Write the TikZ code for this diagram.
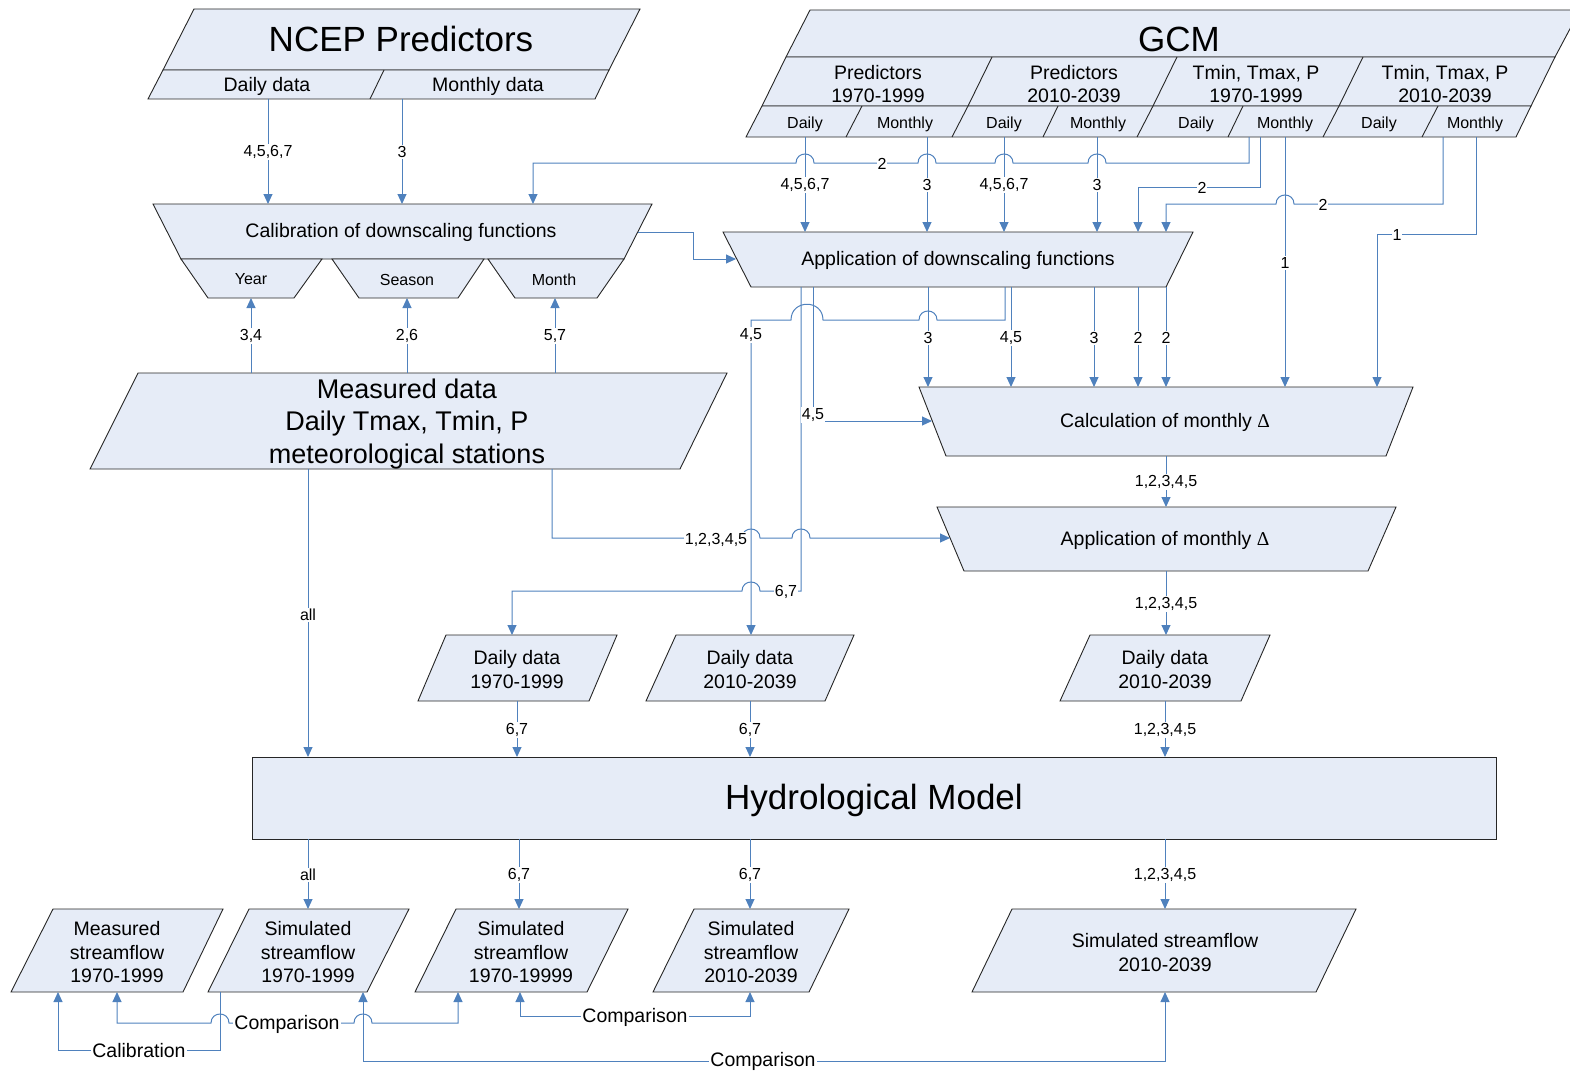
\documentclass[tikz,border=0pt]{standalone}
\usepackage{fontspec}
\setmainfont{Liberation Sans}
\newfontfamily\serifdelta{Liberation Serif}
\usetikzlibrary{arrows.meta}
\definecolor{linkblue}{RGB}{79,129,189}
\definecolor{shapefill}{RGB}{230,236,247}
\newcommand\fsTitle{\fontsize{35}{40}\selectfont}
\newcommand\fsMeas{\fontsize{27}{32.5}\selectfont}
\newcommand\fsMid{\fontsize{19.5}{23.5}\selectfont}
\newcommand\fsSmall{\fontsize{16}{19}\selectfont}
\tikzset{
 box/.style={draw=black!85,line width=0.9pt,fill=shapefill,line join=miter},
 div/.style={draw=black!85,line width=0.9pt},
 wire/.style={draw=linkblue,line width=1pt},
 conn/.style={wire,-{Triangle[length=10pt,width=9pt]}},
 dconn/.style={wire,{Triangle[length=10pt,width=9pt]}-{Triangle[length=10pt,width=9pt]}},
 lab/.style={fill=white,inner sep=1pt,font=\fsSmall,yshift=-1pt},
 blab/.style={fill=white,inner sep=1pt,font=\fsMid,yshift=-1pt},
 txt/.style={align=center,inner sep=0pt,font=\fsMid,yshift=-1.5pt},
 jl/.style 2 args={insert path={-- (#1+9,#2) .. controls (#1+9,#2-12) and (#1-9,#2-12) .. (#1-9,#2)}},
 jr/.style 2 args={insert path={-- (#1-9,#2) .. controls (#1-9,#2-12) and (#1+9,#2-12) .. (#1+9,#2)}},
 jlb/.style 2 args={insert path={-- (#1+16,#2) .. controls (#1+16,#2-21) and (#1-16,#2-21) .. (#1-16,#2)}},
}
\begin{document}
\begin{tikzpicture}[x=1pt,y=-1pt]
\useasboundingbox (0,0) rectangle (1570,1070);

% ---------- shapes ----------
% NCEP
\draw[box] (194,9) -- (640,9) -- (609,70) -- (163,70) -- cycle;
\draw[box] (163,70) -- (609,70) -- (595,99) -- (148,99) -- cycle;
\draw[div] (384,70) -- (370,99);
\node[txt,font=\fsTitle] (ncep) at (401,37) {NCEP Predictors};
\node[txt] (ncepD) at (267,85) {Daily data};
\node[txt] (ncepM) at (488,85) {Monthly data};

% GCM
\draw[box] (810,10) -- (1580,10) -- (1555,57) -- (786,57) -- cycle;
\draw[box] (786,57) -- (1555,57) -- (1531,106) -- (762,106) -- cycle;
\draw[box] (762,106) -- (1531,106) -- (1516,137) -- (746,137) -- cycle;
\draw[div] (992,57) -- (968,106);
\draw[div] (1177,57) -- (1153,106);
\draw[div] (1363,57) -- (1339,106);
\draw[div] (862,106) -- (846,137);
\draw[div] (968,106) -- (952,137);
\draw[div] (1058,106) -- (1043,137);
\draw[div] (1153,106) -- (1137,137);
\draw[div] (1243,106) -- (1228,137);
\draw[div] (1339,106) -- (1323,137);
\draw[div] (1438,106) -- (1422,137);
\node[txt,font=\fsTitle] (gcm) at (1179,37.5) {GCM};
\node[txt] (gp1) at (878,82.5) {Predictors\\1970-1999};
\node[txt] (gp2) at (1074,82.5) {Predictors\\2010-2039};
\node[txt] (gt1) at (1256,82.5) {Tmin, Tmax, P\\1970-1999};
\node[txt] (gt2) at (1445,82.5) {Tmin, Tmax, P\\2010-2039};
\node[txt,font=\fsSmall] (gp1d) at (805,123) {Daily};
\node[txt,font=\fsSmall] (gp1m) at (905,123) {Monthly};
\node[txt,font=\fsSmall] (gp2d) at (1004,123) {Daily};
\node[txt,font=\fsSmall] (gp2m) at (1098,123) {Monthly};
\node[txt,font=\fsSmall] (gt1d) at (1196,123) {Daily};
\node[txt,font=\fsSmall] (gt1m) at (1285,123) {Monthly};
\node[txt,font=\fsSmall] (gt2d) at (1379,123) {Daily};
\node[txt,font=\fsSmall] (gt2m) at (1475,123) {Monthly};

% Calibration
\draw[box] (153,204) -- (652,204) -- (624,259) -- (181,259) -- cycle;
\draw[box] (181,259) -- (322,259) -- (294,298) -- (208,298) -- cycle;
\draw[box] (332,259) -- (484,259) -- (458,298) -- (359,298) -- cycle;
\draw[box] (488,259) -- (624,259) -- (597,298) -- (515,298) -- cycle;
\node[txt] (cal) at (401,231) {Calibration of downscaling functions};
\node[txt,font=\fsSmall] (calY) at (251,278) {Year};
\node[txt,font=\fsSmall] (calS) at (407,278) {Season};
\node[txt,font=\fsSmall] (calM) at (554,278) {Month};

% Measured data
\draw[box] (138,373) -- (727,373) -- (680,469) -- (90,469) -- cycle;
\node[txt,font=\fsMeas] (meas) at (407,422.5) {Measured data\\Daily Tmax, Tmin, P\\meteorological stations};

% Application of downscaling functions
\draw[box] (723,232) -- (1193,232) -- (1166,287) -- (751,287) -- cycle;
\node[txt] (appds) at (958,259) {Application of downscaling functions};

% Calculation of monthly delta
\draw[box] (919,387) -- (1413,387) -- (1386,456) -- (946,456) -- cycle;
\node[txt] (calcd) at (1165,421) {Calculation of monthly {\serifdelta Δ}};

% Application of monthly delta
\draw[box] (937,507) -- (1396,507) -- (1368,571) -- (964,571) -- cycle;
\node[txt] (appd) at (1165,539) {Application of monthly {\serifdelta Δ}};

% Daily data boxes
\draw[box] (446,635) -- (617,635) -- (589,701) -- (418,701) -- cycle;
\node[txt] (dd1) at (517,668) {Daily data\\1970-1999};
\draw[box] (676,635) -- (854,635) -- (825,701) -- (646,701) -- cycle;
\node[txt] (dd2) at (750,668) {Daily data\\2010-2039};
\draw[box] (1090,635) -- (1270,635) -- (1241,701) -- (1060,701) -- cycle;
\node[txt] (dd3) at (1165,668) {Daily data\\2010-2039};

% Hydrological model
\draw[box] (252,757) rectangle (1496,839);
\node[txt,font=\fsTitle] (hm) at (874,799) {Hydrological Model};

% Bottom boxes
\draw[box] (53,909) -- (223,909) -- (183,992) -- (11,992) -- cycle;
\node[txt] (b1) at (117,951) {Measured\\streamflow\\1970-1999};
\draw[box] (249,909) -- (409,909) -- (367,992) -- (208,992) -- cycle;
\node[txt] (b2) at (308,951) {Simulated\\streamflow\\1970-1999};
\draw[box] (456,909) -- (628,909) -- (587,992) -- (415,992) -- cycle;
\node[txt] (b3) at (521,951) {Simulated\\streamflow\\1970-19999};
\draw[box] (694,909) -- (849,909) -- (809,992) -- (653,992) -- cycle;
\node[txt] (b4) at (751,951) {Simulated\\streamflow\\2010-2039};
\draw[box] (1012,909) -- (1356,909) -- (1316,992) -- (972,992) -- cycle;
\node[txt] (b5) at (1165,951) {Simulated streamflow\\2010-2039};

% ---------- ports ----------
\coordinate (pNd) at (268,99);   \coordinate (pNm) at (402,99);
\coordinate (pCal1) at (268,204); \coordinate (pCal2) at (402,204); \coordinate (pCal3) at (533,204);
\coordinate (pG1) at (805,137);  \coordinate (pG2) at (927,137);
\coordinate (pG3) at (1004,137); \coordinate (pG4) at (1097,137);
\coordinate (pG5) at (1249,137); \coordinate (pG6) at (1260,137);
\coordinate (pG7) at (1285,137); \coordinate (pG8) at (1443,137);
\coordinate (pG9) at (1476,137);
\coordinate (pA1) at (805,232);  \coordinate (pA2) at (927,232);
\coordinate (pA3) at (1004,232); \coordinate (pA4) at (1097,232);
\coordinate (pA5) at (1138,232); \coordinate (pA6) at (1166,232);
\coordinate (pAleft) at (736,259); \coordinate (pCalR) at (638,232);
\coordinate (pAb1) at (801,287); \coordinate (pAb2) at (813,287);
\coordinate (pAb3) at (928,287); \coordinate (pAb4) at (1005,287);
\coordinate (pAb5) at (1011,287); \coordinate (pAb6) at (1094,287);
\coordinate (pAb7) at (1138,287); \coordinate (pAb8) at (1166,287);
\coordinate (pC1) at (928,387);  \coordinate (pC2) at (1011,387);
\coordinate (pC3) at (1094,387); \coordinate (pC4) at (1138,387);
\coordinate (pC5) at (1166,387); \coordinate (pC6) at (1285,387);
\coordinate (pC7) at (1377,387); \coordinate (pCleft) at (932,421);
\coordinate (pCb) at (1166,456); \coordinate (pDt) at (1166,507);
\coordinate (pDleft) at (950,538); \coordinate (pDb) at (1166,571);
\coordinate (pYb) at (251,298); \coordinate (pSb) at (407,298); \coordinate (pMb) at (555,298);
\coordinate (pMt1) at (251,373); \coordinate (pMt2) at (407,373); \coordinate (pMt3) at (555,373);
\coordinate (pMb1) at (308,469); \coordinate (pMb2) at (552,469);
\coordinate (pd1t) at (512,635); \coordinate (pd2t) at (751,635); \coordinate (pd3t) at (1166,635);
\coordinate (pd1b) at (517,701); \coordinate (pd2b) at (750,701); \coordinate (pd3b) at (1165,701);
\coordinate (pH1) at (308,757); \coordinate (pH2) at (517,757); \coordinate (pH3) at (750,757); \coordinate (pH4) at (1165,757);
\coordinate (pHb1) at (308,839); \coordinate (pHb2) at (519,839); \coordinate (pHb3) at (750,839); \coordinate (pHb4) at (1165,839);
\coordinate (pB2t) at (308,909); \coordinate (pB3t) at (519,909); \coordinate (pB4t) at (750,909); \coordinate (pB5t) at (1165,909);
\coordinate (pB1a) at (58,992); \coordinate (pB1b) at (117,992);
\coordinate (pB2a) at (220,992); \coordinate (pB2b) at (363,992);
\coordinate (pB3a) at (458,992); \coordinate (pB3b) at (520,992);
\coordinate (pB4a) at (750,992); \coordinate (pB5a) at (1165,992);

% ---------- connectors ----------
\draw[conn] (pNd) -- (pCal1);
\draw[conn] (pNm) -- (pCal2);
\draw[conn] (pG5) -- (1249,163) [jl={1097}{163}] [jl={1004}{163}] [jl={927}{163}] [jl={805}{163}] -- (533,163) -- (pCal3);
\draw[conn] (pG6) -- (1260,187) -- (1138,187) -- (pA5);
\draw[conn] (pG7) -- (pC6);
\draw[conn] (pG8) -- (1443,204) [jl={1285}{204}] -- (1166,204) -- (pA6);
\draw[conn] (pG9) -- (1476,234) -- (1377,234) -- (pC7);
\draw[conn] (pG1) -- (pA1);
\draw[conn] (pG2) -- (pA2);
\draw[conn] (pG3) -- (pA3);
\draw[conn] (pG4) -- (pA4);
\draw[conn] (pCalR) -- (693,232) -- (693,259) -- (pAleft);
\draw[conn] (pMt1) -- (pYb);
\draw[conn] (pMt2) -- (pSb);
\draw[conn] (pMt3) -- (pMb);
\draw[conn] (pMb1) -- (pH1);
\draw[conn] (pMb2) -- (552,538) [jr={751}{538}] [jr={801}{538}] -- (pDleft);
\draw[conn] (pAb1) -- (801,591) [jl={751}{591}] -- (512,591) -- (pd1t);
\draw[conn] (pAb2) -- (813,421) -- (pCleft);
\draw[conn] (pAb4) -- (1005,320) [jl={928}{320}] [jlb={807}{320}] -- (751,320) -- (pd2t);
\draw[conn] (pAb3) -- (pC1);
\draw[conn] (pAb5) -- (pC2);
\draw[conn] (pAb6) -- (pC3);
\draw[conn] (pAb7) -- (pC4);
\draw[conn] (pAb8) -- (pC5);
\draw[conn] (pCb) -- (pDt);
\draw[conn] (pDb) -- (pd3t);
\draw[conn] (pd1b) -- (pH2);
\draw[conn] (pd2b) -- (pH3);
\draw[conn] (pd3b) -- (pH4);
\draw[conn] (pHb1) -- (pB2t);
\draw[conn] (pHb2) -- (pB3t);
\draw[conn] (pHb3) -- (pB4t);
\draw[conn] (pHb4) -- (pB5t);
\draw[conn] (pB2a) -- (220,1050) -- (58,1050) -- (pB1a);
\draw[dconn] (pB1b) -- (117,1023) [jr={220}{1023}] [jr={363}{1023}] -- (458,1023) -- (pB3a);
\draw[dconn] (pB3b) -- (520,1016) -- (750,1016) -- (pB4a);
\draw[dconn] (pB2b) -- (363,1061) -- (1165,1061) -- (pB5a);

% ---------- connector labels ----------
\node[lab] (l1) at (268,151) {4,5,6,7};
\node[lab] (l2) at (402,151) {3};
\node[lab] (l3) at (882,163) {2};
\node[lab] (l4) at (1202,187) {2};
\node[lab] (l5) at (1285,262) {1};
\node[lab] (l6) at (1323,204) {2};
\node[lab] (l7) at (1397,234) {1};
\node[lab] (l8) at (805,184) {4,5,6,7};
\node[lab] (l9) at (927,184) {3};
\node[lab] (l10) at (1004,184) {4,5,6,7};
\node[lab] (l11) at (1097,184) {3};
\node[lab] (l12) at (251,335) {3,4};
\node[lab] (l13) at (407,335) {2,6};
\node[lab] (l14) at (555,335) {5,7};
\node[lab] (l15) at (308,614) {all};
\node[lab] (l16) at (716,539) {1,2,3,4,5};
\node[lab] (l17) at (786,591) {6,7};
\node[lab] (l18) at (813,414) {4,5};
\node[lab] (l19) at (751,334) {4,5};
\node[lab] (l20) at (928,337) {3};
\node[lab] (l21) at (1011,337) {4,5};
\node[lab] (l22) at (1094,337) {3};
\node[lab] (l23) at (1138,337) {2};
\node[lab] (l24) at (1166,337) {2};
\node[lab] (l25) at (1166,481) {1,2,3,4,5};
\node[lab] (l26) at (1166,603) {1,2,3,4,5};
\node[lab] (l27) at (517,729) {6,7};
\node[lab] (l28) at (750,729) {6,7};
\node[lab] (l29) at (1165,729) {1,2,3,4,5};
\node[lab] (l30) at (308,874) {all};
\node[lab] (l31) at (519,874) {6,7};
\node[lab] (l32) at (750,874) {6,7};
\node[lab] (l33) at (1165,874) {1,2,3,4,5};
\node[blab] (l34) at (139,1050) {Calibration};
\node[blab] (l35) at (287,1023) {Comparison};
\node[blab] (l36) at (635,1016) {Comparison};
\node[blab] (l37) at (763,1060) {Comparison};
\end{tikzpicture}
\end{document}
